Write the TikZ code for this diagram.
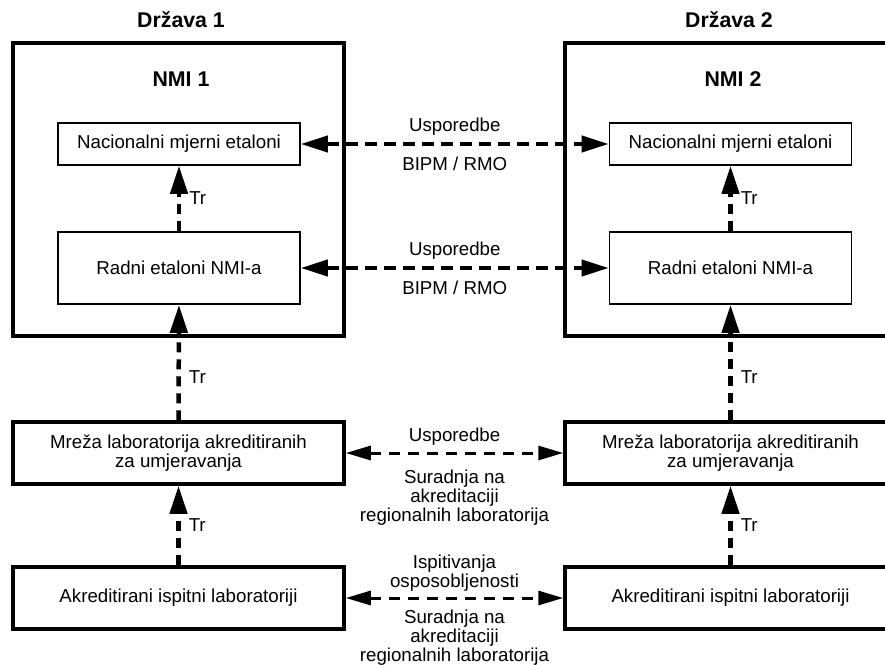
\documentclass[tikz,border=0pt]{standalone}
\usepackage{fontspec}
\setmainfont{Liberation Sans}
\usetikzlibrary{arrows.meta}

\tikzset{
    title/.style={font=\fontsize{21.3}{24}\selectfont\bfseries},
    nmibox/.style={draw, line width=3.5pt, minimum width=331pt, minimum height=293pt},
    etalonbox/.style={draw, line width=1.6pt, minimum width=242pt},
    labbox/.style={draw, line width=3.5pt, minimum width=331pt, minimum height=62pt, align=center},
    tr/.style={line width=4.5pt, dash pattern=on 10pt off 7pt, -{Triangle[length=28pt,width=17pt]}},
    cmp/.style={line width=4pt, dash pattern=on 12pt off 7pt, {Triangle[length=27pt,width=16pt]}-{Triangle[length=27pt,width=16pt]}},
    cmplab/.style={line width=3pt, dash pattern=on 11pt off 8pt, {Triangle[length=25pt,width=14pt]}-{Triangle[length=25pt,width=14pt]}},
    lbl/.style={align=center, inner sep=0pt}
}

\begin{document}
\begin{tikzpicture}[x=1pt, y=-1pt, font=\fontsize{18.7}{19}\selectfont]
    \useasboundingbox (0,0) rectangle (885,664);

    % Country headers
    \node[title] (d1) at (181,20) {Država 1};
    \node[title] (d2) at (729,20) {Država 2};

    % NMI boxes
    \node[nmibox] (nmi1) at (178.5,189.5) {};
    \node[nmibox] (nmi2) at (730.5,189.5) {};
    \node[title] (nmi1t) at (181,79) {NMI 1};
    \node[title] (nmi2t) at (733,79) {NMI 2};

    % -- etalons inside
    \node[etalonbox, minimum height=42pt] (nac1) at (179,144) {Nacionalni mjerni etaloni};
    \node[etalonbox, minimum height=42pt] (nac2) at (730.5,144) {Nacionalni mjerni etaloni};
    \node[etalonbox, minimum height=72pt] (rad1) at (179,268) {Radni etaloni NMI-a};
    \node[etalonbox, minimum height=72pt] (rad2) at (730.5,268) {Radni etaloni NMI-a};

    % Laboratory boxes
    \node[labbox] (mre1) at (178.5,453) {Mreža laboratorija akreditiranih\\za umjeravanja};
    \node[labbox] (mre2) at (730.5,453) {Mreža laboratorija akreditiranih\\za umjeravanja};
    \node[labbox] (akr1) at (178.5,598) {Akreditirani ispitni laboratoriji};
    \node[labbox] (akr2) at (730.5,598) {Akreditirani ispitni laboratoriji};

    % Traceability arrows
    \draw[tr] (rad1.north) -- (nac1.south) node[midway, right=8pt, lbl] {Tr};
    \draw[tr] (rad2.north) -- (nac2.south) node[midway, right=8pt, lbl] {Tr};
    \draw[tr] (mre1.north) -- (rad1.south) node[pos=0.375, right=8pt, lbl] {Tr};
    \draw[tr] (mre2.north) -- (rad2.south) node[pos=0.375, right=8pt, lbl] {Tr};
    \draw[tr] (akr1.north) -- (mre1.south) node[midway, right=8pt, lbl] {Tr};
    \draw[tr] (akr2.north) -- (mre2.south) node[midway, right=8pt, lbl] {Tr};

    % Comparisons between countries
    \draw[cmp] (nac1.east) -- (nac2.west)
        node[midway, above=7pt, lbl] {Usporedbe}
        node[midway, below=11pt, lbl] {BIPM / RMO};
    \draw[cmp] (rad1.east) -- (rad2.west)
        node[midway, above=7pt, lbl] {Usporedbe}
        node[midway, below=11pt, lbl] {BIPM / RMO};
    \draw[cmplab] (mre1.east) -- (mre2.west)
        node[midway, above=6pt, lbl] {Usporedbe}
        node[midway, below=15pt, lbl] {Suradnja na\\akreditaciji\\regionalnih laboratorija};
    \draw[cmplab] (akr1.east) -- (akr2.west)
        node[midway, above=5pt, lbl] {Ispitivanja\\osposobljenosti}
        node[midway, below=10pt, lbl] {Suradnja na\\akreditaciji\\regionalnih laboratorija};
\end{tikzpicture}
\end{document}
